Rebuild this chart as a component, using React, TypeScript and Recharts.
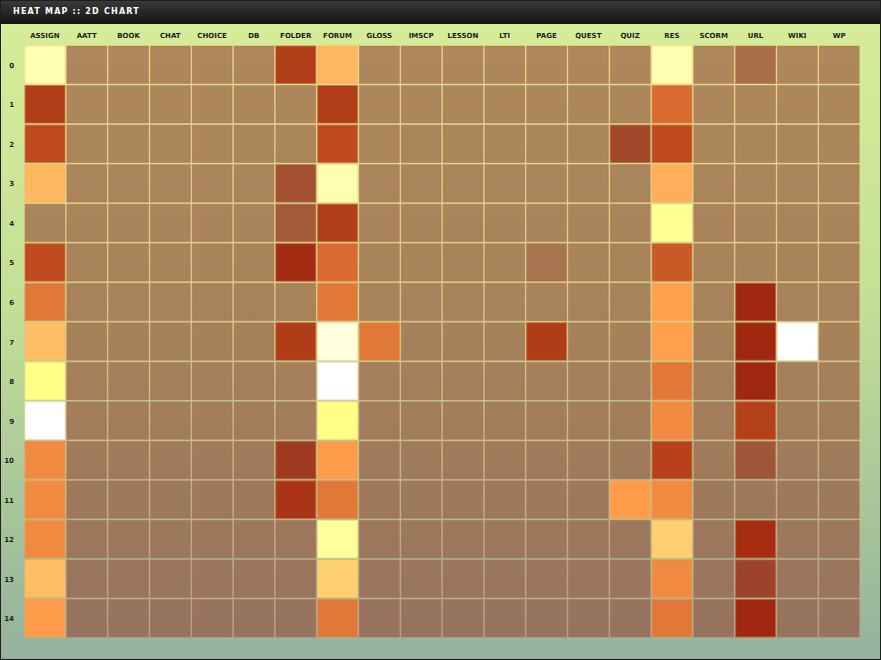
import { BarChart, Bar, XAxis, YAxis } from 'recharts';

const columns = ['ASSIGN', 'AATT', 'BOOK', 'CHAT', 'CHOICE', 'DB', 'FOLDER', 'FORUM', 'GLOSS', 'IMSCP',
  'LESSON', 'LTI', 'PAGE', 'QUEST', 'QUIZ', 'RES', 'SCORM', 'URL', 'WIKI', 'WP'];
const rows = ['0', '1', '2', '3', '4', '5', '6', '7', '8', '9', '10', '11', '12', '13', '14'];

// heat per column, one value per row (0 = no activity, 100 = hottest)
const idle = [0, 0, 0, 0, 0, 0, 0, 0, 0, 0, 0, 0, 0, 0, 0];
const assign = [93, 21, 28, 70, 0, 28, 46, 72, 86, 100, 54, 54, 54, 72, 62];
const folder = [21, 0, 0, 6, 5, 12, 0, 20, 0, 0, 8, 16, 0, 0, 0];
const forum = [70, 21, 28, 93, 21, 40, 46, 97, 100, 86, 62, 46, 89, 78, 46];
const gloss = [0, 0, 0, 0, 0, 0, 0, 46, 0, 0, 0, 0, 0, 0, 0];
const page = [0, 0, 0, 0, 0, 2, 0, 20, 0, 0, 0, 0, 0, 0, 0];
const quiz = [0, 0, 7, 0, 0, 0, 0, 0, 0, 0, 0, 62, 0, 0, 0];
const res = [93, 40, 28, 67, 88, 34, 63, 63, 46, 54, 23, 54, 78, 54, 46];
const url = [3, 0, 0, 0, 0, 0, 10, 10, 10, 22, 5, 0, 13, 7, 10];
const wiki = [0, 0, 0, 0, 0, 0, 0, 100, 0, 0, 0, 0, 0, 0, 0];

const heat: number[][] = [assign, idle, idle, idle, idle, idle, folder, forum, gloss, idle,
  idle, idle, page, idle, quiz, res, idle, url, wiki, idle];

// colour ramp: [value, r, g, b, alpha]
const ramp = [
  [0, 150, 75, 55, 0.62],
  [10, 160, 40, 16, 1],
  [20, 176, 60, 24, 1],
  [28, 192, 74, 32, 1],
  [34, 200, 90, 40, 1],
  [40, 216, 106, 48, 1],
  [46, 224, 120, 56, 1],
  [54, 240, 138, 64, 1],
  [62, 255, 156, 76, 1],
  [70, 255, 184, 96, 1],
  [78, 255, 208, 112, 1],
  [86, 255, 255, 136, 1],
  [93, 255, 255, 176, 1],
  [100, 255, 255, 255, 1],
];

const colorFor = (v: number) => {
  let i = 0;
  while (i < ramp.length - 2 && v > ramp[i + 1][0]) i++;
  const a = ramp[i];
  const b = ramp[i + 1];
  const t = Math.max(0, Math.min(1, (v - a[0]) / (b[0] - a[0])));
  const c = [1, 2, 3, 4].map((k) => a[k] + (b[k] - a[k]) * t);
  return { r: c[0], g: c[1], b: c[2], a: c[3] };
};

const data = columns.map((name) => {
  const d: Record<string, string | number> = { name };
  rows.forEach((_, r) => {
    d['r' + r] = 1;
  });
  return d;
});

const HeatCell = (props: any) => {
  const { x, y, width, height, index, row } = props;
  if (width == null || height == null) return null;
  const top = Math.min(y, y + height);
  const h = Math.abs(height);
  const v = heat[index][row];
  const c = colorFor(v);
  const fill = `rgb(${Math.round(c.r)},${Math.round(c.g)},${Math.round(c.b)})`;
  let stroke = 'rgb(215,85,55)';
  let strokeOpacity = 0.4;
  if (v > 0) {
    const m = 0.4;
    stroke = `rgb(${Math.round(c.r + (255 - c.r) * m)},${Math.round(c.g + (170 - c.g) * m)},${Math.round(c.b + (100 - c.b) * m)})`;
    strokeOpacity = 0.8 * c.a;
  }
  return (
    <rect
      x={x + 1}
      y={top + 1}
      width={width - 2}
      height={h - 2}
      fill={fill}
      fillOpacity={c.a}
      stroke={stroke}
      strokeOpacity={strokeOpacity}
      strokeWidth={1}
    />
  );
};

const XTick = (props: any) => {
  const { x, payload } = props;
  return (
    <text x={x} y={14} textAnchor="middle" fontFamily="DejaVu Sans" fontWeight="bold" fontSize={7} fill="#1c1c1c">
      {payload.value}
    </text>
  );
};

const YTick = (props: any) => {
  const { x, y, payload } = props;
  return (
    <text x={x - 2} y={y} dy={3} textAnchor="end" fontFamily="DejaVu Sans" fontWeight="bold" fontSize={7} fill="#1c1c1c">
      {rows[Math.floor(payload.value)]}
    </text>
  );
};

const App = () => {
  return (
    <div
      style={{
        position: 'absolute',
        left: 0,
        top: 0,
        width: 881,
        height: 660,
        boxSizing: 'border-box',
        border: '1px solid #1e1e1e',
        background: 'linear-gradient(to bottom, #d8ed98 0%, #c4e096 45%, #94b29d 100%)',
      }}
    >
      <div
        style={{
          position: 'absolute',
          left: 0,
          top: 0,
          width: 879,
          height: 23,
          background: 'linear-gradient(to bottom, #393939, #141414)',
        }}
      >
        <span
          style={{
            position: 'absolute',
            left: 12,
            top: 5,
            color: '#ffffff',
            fontFamily: 'DejaVu Sans',
            fontWeight: 'bold',
            fontSize: 8,
            letterSpacing: 1.2,
            lineHeight: '12px',
          }}
        >
          HEAT MAP :: 2D CHART
        </span>
      </div>
      <div style={{ position: 'absolute', left: 0, top: 23 }}>
        <BarChart
          width={879}
          height={635}
          data={data}
          margin={{ top: 1, right: 20, bottom: 21, left: 0 }}
          barCategoryGap={0}
          barGap={0}
        >
          <XAxis
            dataKey="name"
            orientation="top"
            height={20}
            interval={0}
            axisLine={false}
            tickLine={false}
            tick={<XTick />}
          />
          <YAxis
            type="number"
            domain={[0, rows.length]}
            reversed
            width={23}
            ticks={rows.map((_, i) => i + 0.5)}
            interval={0}
            axisLine={false}
            tickLine={false}
            tick={<YTick />}
          />
          {rows.map((_, r) => (
            <Bar
              key={r}
              dataKey={'r' + r}
              stackId="heat"
              isAnimationActive={false}
              shape={(p: any) => <HeatCell {...p} row={r} />}
            />
          ))}
        </BarChart>
      </div>
    </div>
  );
};

export default App;
